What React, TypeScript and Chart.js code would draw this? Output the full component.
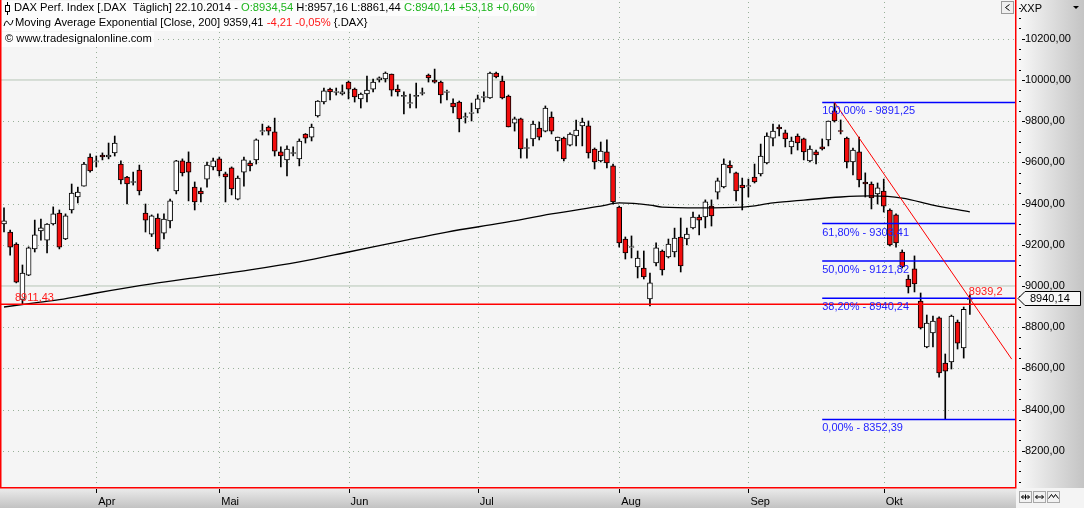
import React, { useEffect, useRef } from "react";
import { Chart, registerables } from "chart.js";
Chart.register(...registerables);

// ---- DATA (DAX daily, 11.03.2014 - 22.10.2014) ----
const opens = [
  9301, 9262, 9204, 8935, 9053, 9180, 9267, 9223, 9301, 9354, 9228, 9369, 9432, 9485, 9626, 9605, 9636, 9626, 9646, 9592, 9529, 9503, 9563, 9354,
  9252, 9330, 9257, 9316, 9461, 9607, 9602, 9480, 9461, 9519, 9578, 9617, 9544, 9573, 9422, 9553, 9597, 9612, 9750, 9772, 9748, 9651, 9612, 9643, 9617,
  9738, 9723, 9825, 9893, 9956, 9940, 9932, 9990, 9956, 9908, 9932, 9956, 10000, 10005, 10029, 9956, 9920, 9886, 9920, 9935, 10024, 10000, 9990, 9940,
  9888, 9893, 9818, 9838, 9859, 9916, 9913, 10034, 9995, 9922, 9791, 9811, 9668, 9714, 9767, 9752, 9820, 9704, 9718, 9684, 9728, 9777, 9777, 9665,
  9607, 9651, 9583, 9383, 9228, 9187, 9092, 9087, 8937, 9112, 9170, 9141, 9165, 9238, 9228, 9282, 9335, 9335, 9388, 9456, 9481, 9587, 9549, 9490,
  9483, 9529, 9544, 9597, 9718, 9772, 9743, 9675, 9728, 9714, 9607, 9651, 9675, 9709, 9850, 9754, 9718, 9602, 9651, 9505, 9495, 9447,
  9461, 9369, 9345, 9165, 9034, 9083, 8927, 8704, 8772, 8845, 8626, 8631, 8825, 8699, 8934.54,
];
const highs = [
  9379, 9272, 9210, 9102, 9190, 9320, 9325, 9303, 9384, 9369, 9350, 9495, 9480, 9600, 9641, 9631, 9646, 9694, 9728, 9607, 9532, 9553, 9587, 9398,
  9345, 9350, 9350, 9422, 9610, 9617, 9651, 9505, 9476, 9602, 9621, 9626, 9553, 9578, 9534, 9626, 9607, 9714, 9786, 9777, 9815, 9675, 9680, 9675, 9714,
  9740, 9786, 9900, 9961, 9961, 9961, 9976, 9995, 9961, 9937, 10019, 10005, 10015, 10039, 10029, 9976, 9942, 9932, 9985, 9961, 10029, 10053, 9995, 9951,
  9908, 9898, 9840, 9888, 9927, 9942, 10039, 10039, 10019, 9927, 9820, 9815, 9714, 9801, 9796, 9874, 9845, 9723, 9723, 9743, 9806, 9815, 9801, 9670,
  9699, 9709, 9592, 9388, 9238, 9243, 9170, 9170, 9063, 9209, 9175, 9228, 9281, 9330, 9281, 9359, 9345, 9418, 9418, 9524, 9617, 9607, 9553, 9524,
  9519, 9592, 9689, 9743, 9786, 9782, 9757, 9723, 9738, 9718, 9680, 9660, 9714, 9801, 9891.25, 9806, 9723, 9670, 9723, 9549, 9505, 9500,
  9519, 9374, 9350, 9175, 9053, 9146, 8966, 8859, 8854, 8850, 8670, 8859, 8835, 8898, 8957.16,
];
const lows = [
  9262, 9150, 9015, 8911.43, 9050, 9165, 9223, 9160, 9296, 9180, 9225, 9354, 9403, 9485, 9553, 9578, 9612, 9617, 9631, 9495, 9398, 9490, 9442, 9262,
  9240, 9170, 9228, 9282, 9447, 9534, 9413, 9369, 9408, 9480, 9563, 9534, 9408, 9442, 9418, 9485, 9558, 9592, 9733, 9733, 9631, 9578, 9534, 9631, 9583,
  9694, 9704, 9820, 9884, 9903, 9927, 9927, 9908, 9893, 9864, 9893, 9942, 9990, 9990, 9922, 9922, 9835, 9864, 9864, 9927, 9990, 9985, 9888, 9903,
  9840, 9748, 9791, 9801, 9840, 9893, 9910, 10010, 9908, 9772, 9752, 9621, 9621, 9680, 9709, 9748, 9738, 9655, 9607, 9680, 9680, 9680, 9621, 9568,
  9602, 9573, 9398, 9189, 9131, 9136, 9039, 9034, 8903, 9097, 9053, 9136, 9141, 9068, 9199, 9277, 9248, 9282, 9291, 9422, 9476, 9549, 9413, 9369,
  9432, 9500, 9534, 9592, 9680, 9728, 9675, 9641, 9660, 9612, 9602, 9592, 9660, 9680, 9796, 9738, 9573, 9539, 9481, 9432, 9374, 9398,
  9359, 9194, 9189, 9087, 8966, 8971, 8791, 8700, 8704, 8558, 8352.39, 8597, 8694, 8650, 8861.44,
];
const closes = [
  9316, 9189, 9019, 9063, 9185, 9248, 9282, 9301, 9350, 9189, 9340, 9451, 9456, 9592, 9558, 9608, 9626, 9636, 9694, 9515, 9495, 9507, 9461, 9320,
  9340, 9180, 9325, 9413, 9607, 9549, 9553, 9408, 9447, 9587, 9607, 9558, 9529, 9471, 9524, 9612, 9583, 9709, 9754, 9752, 9655, 9631, 9665, 9648, 9704,
  9718, 9772, 9898, 9947, 9942, 9944, 9942, 9956, 9918, 9932, 9951, 9990, 10010, 10034, 9951, 9942, 9925, 9890, 9925, 9939, 10010, 9990, 9927, 9944,
  9869, 9811, 9822, 9842, 9908, 9920, 10034, 10015, 9913, 9772, 9811, 9665, 9672, 9786, 9723, 9864, 9752, 9723, 9617, 9738, 9757, 9796, 9646, 9602,
  9655, 9597, 9408, 9209, 9160, 9191, 9136, 9044, 9015, 9185, 9078, 9204, 9233, 9097, 9252, 9335, 9320, 9408, 9340, 9510, 9592, 9573, 9461, 9476,
  9487, 9505, 9631, 9728, 9752, 9762, 9714, 9704, 9694, 9651, 9665, 9636, 9665, 9801, 9801, 9750, 9602, 9660, 9515, 9495, 9427, 9476,
  9388, 9199, 9209, 9092, 8995, 9010, 8796, 8820, 8830, 8578, 8587, 8854, 8723, 8887, 8940.14,
];

// EMA(200) at selected bars
const emaIdx = [0, 5, 9, 15, 24, 32, 40, 48, 56, 64, 72, 81, 89, 97, 100, 105, 107, 113, 120, 125, 130, 136, 141, 146, 151, 157];
const emaVals = [8898, 8918, 8934, 8966, 9010, 9044, 9078, 9117, 9165, 9214, 9262, 9306, 9350, 9388, 9403, 9393, 9383, 9379, 9383, 9403, 9417, 9432, 9437, 9427, 9393, 9359.41];

const monthStartIdx = [15, 35, 56, 77, 100, 121, 143];
const monthLabels = ["Apr", "Mai", "Jun", "Jul", "Aug", "Sep", "Okt"];

const fibLevels = [9891.25, 9303.41, 9121.82, 8940.24, 8352.39];
const fibPct = ["100,00%", "61,80%", "50,00%", "38,20%", "0,00%"];
const fibStartIdx = 133;

const trendIdx = [135, 163.8];
const trendVals = [9891.25, 8645];
const trendMarkIdx = 157;
const trendMarkVal = 8939.2;

const supportVal = 8911.43;
const roundLevels = [10000, 9000];

const headerChange = "+53,18";
const headerPct = "+0,60%";
const emaChange = "-4,21";
const emaPct = "-0,05%";

// ---- layout constants ----
const X_MIN = -0.65;
const X_MAX = 164.5;
const Y_MIN = 8019.4;
const Y_MAX = 10388.3;
const FAMILY = '"Liberation Sans", Arial, sans-serif';
const FONT = "11px " + FAMILY;
const HFONT = "11.2px " + FAMILY;
const GRID = "#98b098";
const GREEN = "#1db41d";
const RED = "#ff1a1a";
const BLUE = "#2323ff";
const CLEAR = "rgba(0,0,0,0)";

const fmt = (v: number, d = 2) => v.toFixed(d).replace(".", ",");

const yTicks: number[] = [];
for (let v = 8050; v <= 10350; v += 50) yTicks.push(v);

function drawSegments(ctx: CanvasRenderingContext2D, x: number, y: number, segs: { t: string; c: string }[]) {
  let cx = x;
  for (const s of segs) {
    ctx.fillStyle = s.c;
    ctx.fillText(s.t, cx, y);
    cx += ctx.measureText(s.t).width;
  }
  return cx;
}

const decor = {
  id: "decor",
  beforeDraw(chart: any) {
    const { ctx, chartArea: a, width, height } = chart;
    ctx.save();
    ctx.fillStyle = "#f5f5f5";
    ctx.fillRect(a.left, a.top, a.right - a.left, a.bottom - a.top);
    let g = ctx.createLinearGradient(a.right, 0, width, 0);
    g.addColorStop(0, "#fafafa");
    g.addColorStop(1, "#c4c4c4");
    ctx.fillStyle = g;
    ctx.fillRect(a.right, 0, width - a.right, a.bottom);
    g = ctx.createLinearGradient(0, a.bottom, 0, height);
    g.addColorStop(0, "#ececec");
    g.addColorStop(1, "#c2c2c2");
    ctx.fillStyle = g;
    ctx.fillRect(0, a.bottom, a.right, height - a.bottom);
    ctx.fillStyle = "#f4f4f4";
    ctx.fillRect(a.right, a.bottom, width - a.right, height - a.bottom);
    ctx.restore();
  },
  beforeDatasetsDraw(chart: any) {
    const { ctx, chartArea: a } = chart;
    const xs = chart.scales.x;
    const ys = chart.scales.y;
    ctx.save();
    ctx.fillStyle = GRID;
    for (const v of yTicks) {
      if (v % 200 !== 0 || roundLevels.includes(v)) continue;
      const y = Math.round(ys.getPixelForValue(v));
      for (let x = a.left + 3; x < a.right - 1; x += 5) ctx.fillRect(x, y, 1, 1);
    }
    for (const m of monthStartIdx) {
      const x = Math.round(xs.getPixelForValue(m));
      for (let y = a.top + 2; y < a.bottom - 1; y += 5) ctx.fillRect(x, y, 1, 1);
    }
    ctx.restore();
  },
  afterDraw(chart: any) {
    const { ctx, chartArea: a, width } = chart;
    const xs = chart.scales.x;
    const ys = chart.scales.y;
    ctx.save();
    ctx.font = FONT;
    ctx.textBaseline = "middle";

    // y-axis tick marks
    ctx.strokeStyle = "#000";
    ctx.lineWidth = 1;
    for (const v of yTicks) {
      const y = Math.round(ys.getPixelForValue(v)) + 0.5;
      ctx.beginPath();
      if (v % 200 === 0) {
        ctx.moveTo(a.right + 6, y);
        ctx.lineTo(a.right + 9, y);
      } else {
        ctx.moveTo(a.right + 3, y);
        ctx.lineTo(a.right + 5, y);
      }
      ctx.stroke();
    }
    // x-axis tick marks
    for (const m of monthStartIdx) {
      const x = Math.round(xs.getPixelForValue(m)) + 0.5;
      ctx.beginPath();
      ctx.moveTo(x, a.bottom + 1);
      ctx.lineTo(x, a.bottom + 5);
      ctx.stroke();
    }

    // fib labels
    ctx.fillStyle = BLUE;
    ctx.textAlign = "left";
    fibLevels.forEach((L, i) => {
      ctx.fillText(fibPct[i] + " - " + fmt(L), xs.getPixelForValue(fibStartIdx), ys.getPixelForValue(L) + 9);
    });

    // trend label
    ctx.fillStyle = RED;
    ctx.fillText(fmt(trendMarkVal, 1), xs.getPixelForValue(trendMarkIdx) - 1, ys.getPixelForValue(trendMarkVal) - 7);
    // support label
    ctx.fillText(fmt(supportVal), a.left + 15, ys.getPixelForValue(supportVal) - 6);

    // red frame
    ctx.strokeStyle = "#ff0000";
    ctx.lineWidth = 1.5;
    ctx.beginPath();
    ctx.moveTo(a.left + 0.75, a.top);
    ctx.lineTo(a.left + 0.75, a.bottom - 0.25);
    ctx.lineTo(a.right - 0.25, a.bottom - 0.25);
    ctx.lineTo(a.right - 0.25, a.top);
    ctx.stroke();

    // price box
    const py = Math.round(ys.getPixelForValue(closes[closes.length - 1])) + 0.5;
    ctx.beginPath();
    ctx.moveTo(a.right + 2, py);
    ctx.lineTo(a.right + 9, py - 7);
    ctx.lineTo(width - 3.5, py - 7);
    ctx.lineTo(width - 3.5, py + 7);
    ctx.lineTo(a.right + 9, py + 7);
    ctx.closePath();
    ctx.fillStyle = "#f7f7f7";
    ctx.fill();
    ctx.strokeStyle = "#000";
    ctx.lineWidth = 1;
    ctx.stroke();
    ctx.fillStyle = "#000";
    ctx.fillText(fmt(closes[closes.length - 1]), a.right + 14, py);

    // XXP + arrow
    ctx.fillText("XXP", a.right + 4, 9);
    ctx.beginPath();
    ctx.moveTo(width - 11, 6);
    ctx.lineTo(width - 5, 6);
    ctx.lineTo(width - 8, 9);
    ctx.closePath();
    ctx.fill();

    // small "<" button
    ctx.fillStyle = "#f0f0f0";
    ctx.fillRect(a.right - 14.5, 1.5, 12, 12);
    ctx.strokeStyle = "#9a9a9a";
    ctx.strokeRect(a.right - 14.5, 1.5, 12, 12);
    ctx.strokeStyle = "#000";
    ctx.beginPath();
    ctx.moveTo(a.right - 6.5, 4.5);
    ctx.lineTo(a.right - 10.5, 7.5);
    ctx.lineTo(a.right - 6.5, 10.5);
    ctx.stroke();

    // bottom-right buttons
    for (let k = 0; k < 3; k++) {
      const bx = a.right + 3.5 + k * 14;
      const by = a.bottom + 3.5;
      ctx.fillStyle = "#f2f2f2";
      ctx.fillRect(bx, by, 12, 11);
      ctx.strokeStyle = "#a8a8a8";
      ctx.strokeRect(bx, by, 12, 11);
      ctx.strokeStyle = "#000";
      ctx.beginPath();
      if (k < 2) {
        ctx.moveTo(bx + 2, by + 5.5);
        ctx.lineTo(bx + 10, by + 5.5);
        ctx.moveTo(bx + 4, by + 3.5);
        ctx.lineTo(bx + 2, by + 5.5);
        ctx.lineTo(bx + 4, by + 7.5);
        ctx.moveTo(bx + 8, by + 3.5);
        ctx.lineTo(bx + 10, by + 5.5);
        ctx.lineTo(bx + 8, by + 7.5);
        if (k === 0) {
          ctx.moveTo(bx + 6, by + 3);
          ctx.lineTo(bx + 6, by + 8);
        }
      } else {
        ctx.moveTo(bx + 1, by + 7);
        ctx.lineTo(bx + 4, by + 3);
        ctx.lineTo(bx + 6, by + 6);
        ctx.lineTo(bx + 8, by + 3);
        ctx.lineTo(bx + 11, by + 7);
      }
      ctx.stroke();
    }

    // header
    ctx.font = HFONT;
    const last = closes.length - 1;
    const lines: { t: string; c: string }[][] = [
      [
        { t: "DAX Perf. Index [.DAX  T\u00e4glich] 22.10.2014 - ", c: "#000" },
        { t: "O:" + fmt(opens[last]), c: GREEN },
        { t: " H:" + fmt(highs[last]) + " L:" + fmt(lows[last]), c: "#000" },
        { t: " C:" + fmt(closes[last]) + " " + headerChange + " " + headerPct, c: GREEN },
      ],
      [
        { t: "Moving Average Exponential [Close, 200] " + fmt(emaVals[emaVals.length - 1]) + " ", c: "#000" },
        { t: emaChange + " " + emaPct, c: RED },
        { t: " {.DAX}", c: "#000" },
      ],
      [{ t: "\u00a9 www.tradesignalonline.com", c: "#000" }],
    ];
    const starts = [14, 15, 5];
    const ys0 = [8, 23, 39];
    lines.forEach((segs, i) => {
      const w = segs.reduce((s, g) => s + ctx.measureText(g.t).width, 0);
      ctx.fillStyle = "#fcfcfc";
      ctx.fillRect(2, ys0[i] - 7, starts[i] + w, 15);
      drawSegments(ctx, starts[i], ys0[i], segs);
    });
    // candle icon
    ctx.strokeStyle = "#000";
    ctx.beginPath();
    ctx.moveTo(7.5, 2);
    ctx.lineTo(7.5, 15);
    ctx.stroke();
    ctx.fillStyle = "#fff";
    ctx.fillRect(5.5, 5.5, 4, 6);
    ctx.strokeRect(5.5, 5.5, 4, 6);
    // wave icon
    ctx.beginPath();
    ctx.moveTo(4, 26);
    ctx.quadraticCurveTo(6, 18, 8.5, 23);
    ctx.quadraticCurveTo(11, 28, 13, 20);
    ctx.stroke();

    ctx.restore();
  },
};

export default function App() {
  const ref = useRef<HTMLCanvasElement>(null);
  useEffect(() => {
    document.body.style.margin = "0";
    const idx = opens.map((_, i) => i);
    const lineDs = (data: any[], color: string, width: number, order: number, cubic = false) => ({
      type: "line",
      data,
      borderColor: color,
      borderWidth: width,
      pointRadius: 0,
      fill: false,
      order,
      cubicInterpolationMode: cubic ? "monotone" : "default",
    });
    const datasets: any[] = [];
    roundLevels.forEach((L) =>
      datasets.push(lineDs([{ x: X_MIN, y: L }, { x: X_MAX, y: L }], "#b6c6b6", 1, 20))
    );
    datasets.push({
      type: "bar",
      data: idx.map((i) => ({ x: i, y: [lows[i], highs[i]] })),
      backgroundColor: "#000",
      borderWidth: 0,
      barThickness: 1,
      grouped: false,
      order: 10,
    });
    datasets.push({
      type: "bar",
      data: idx.map((i) => ({ x: i, y: [opens[i], closes[i]] })),
      backgroundColor: idx.map((i) => (closes[i] >= opens[i] ? "#ffffff" : "#f20d0d")),
      borderColor: "#000",
      borderWidth: 1,
      borderSkipped: false,
      barThickness: 5,
      grouped: false,
      order: 9,
    });
    datasets.push(lineDs(emaIdx.map((x, k) => ({ x, y: emaVals[k] })), "#000", 1.3, 5, true));
    fibLevels.forEach((L) =>
      datasets.push(lineDs([{ x: fibStartIdx, y: L }, { x: X_MAX, y: L }], "#0000ff", 1.5, 3))
    );
    datasets.push(lineDs([{ x: X_MIN, y: supportVal }, { x: X_MAX, y: supportVal }], "#ff0000", 1.5, 2));
    datasets.push(lineDs(trendIdx.map((x, k) => ({ x, y: trendVals[k] })), "#ff0000", 1, 1));

    const chart = new Chart(ref.current as HTMLCanvasElement, {
      type: "bar",
      data: { datasets },
      options: {
        responsive: false,
        animation: false,
        devicePixelRatio: 1,
        layout: { padding: 0 },
        plugins: { legend: { display: false }, tooltip: { enabled: false } },
        events: [],
        scales: {
          x: {
            type: "linear",
            min: X_MIN,
            max: X_MAX,
            offset: false,
            afterBuildTicks: (s: any) => {
              s.ticks = monthStartIdx.map((v) => ({ value: v }));
            },
            afterFit: (s: any) => {
              s.height = 20;
              s.paddingLeft = 0;
              s.paddingRight = 0;
            },
            ticks: {
              autoSkip: false,
              maxRotation: 0,
              align: "start",
              labelOffset: 2,
              padding: 3,
              color: "#000",
              font: { family: FAMILY, size: 11 },
              callback: (v: any) => {
                const k = monthStartIdx.indexOf(Number(v));
                return k >= 0 ? monthLabels[k] : "";
              },
            },
            grid: { offset: false, color: CLEAR, tickLength: 4, tickColor: CLEAR },
            border: { display: false },
          },
          y: {
            type: "linear",
            position: "right",
            min: Y_MIN,
            max: Y_MAX,
            beginAtZero: false,
            afterBuildTicks: (s: any) => {
              s.ticks = yTicks.map((v) => ({ value: v }));
            },
            afterFit: (s: any) => {
              s.width = 68;
              s.paddingTop = 0;
              s.paddingBottom = 0;
            },
            ticks: {
              autoSkip: false,
              padding: 0,
              color: "#000",
              font: { family: FAMILY, size: 11 },
              callback: (v: any) => (Number(v) % 200 === 0 ? fmt(Number(v)) : ""),
            },
            grid: { color: CLEAR, tickLength: 9, tickColor: CLEAR },
            border: { display: false },
          },
        },
      },
      plugins: [decor],
    } as any);
    return () => chart.destroy();
  }, []);
  return (
    <div style={{ width: 1084, height: 508, position: "relative" }}>
      <canvas ref={ref} width={1084} height={508} style={{ display: "block" }} />
    </div>
  );
}
